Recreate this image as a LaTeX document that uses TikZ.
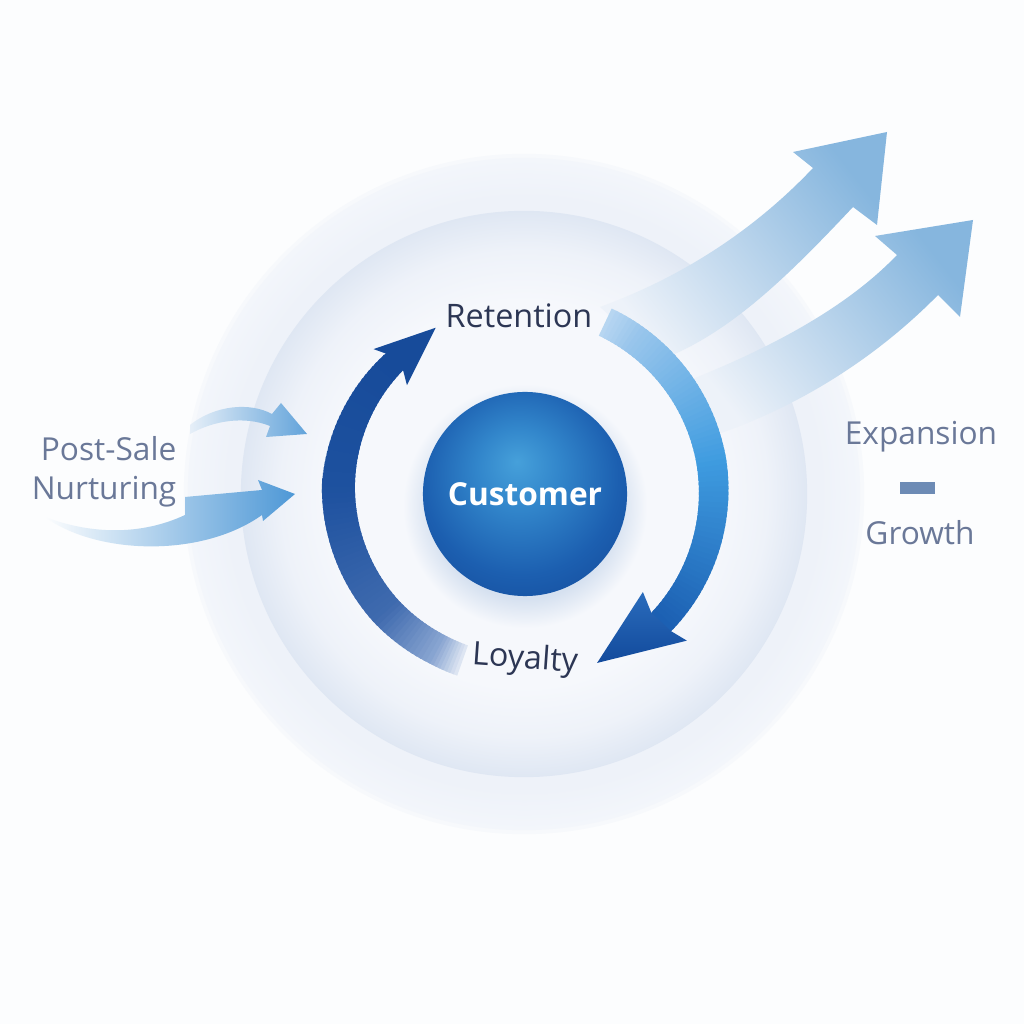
\documentclass[tikz,border=0pt]{standalone}
\usepackage{fontspec}
\setmainfont{Open Sans}
\usetikzlibrary{calc}
\definecolor{bgpage}{HTML}{FCFDFE}
\definecolor{outA}{HTML}{EEF2F9}
\definecolor{outB}{HTML}{F3F6FB}
\definecolor{midA}{HTML}{F6F8FC}
\definecolor{midB}{HTML}{EEF2F9}
\definecolor{midC}{HTML}{DFE7F3}
\definecolor{custA}{HTML}{46A0DA}
\definecolor{custB}{HTML}{3286CB}
\definecolor{custC}{HTML}{1C5FB0}
\definecolor{custD}{HTML}{164F9F}
\definecolor{shadA}{HTML}{C9D7EA}
\definecolor{shadB}{HTML}{D6E1F0}
\definecolor{txtdark}{HTML}{2C3654}
\definecolor{txtside}{HTML}{6A7898}
\definecolor{dashc}{HTML}{6D8BB5}
\definecolor{growHead}{HTML}{86B6DE}
\definecolor{growMid}{HTML}{B4D1EA}
\definecolor{growTail}{HTML}{EDF2F9}
\definecolor{inTail}{HTML}{E6EFF8}
\definecolor{inHeadA}{HTML}{62A3DA}
\definecolor{inHeadB}{HTML}{4E98D6}
\definecolor{lA}{HTML}{E2E9F4}
\definecolor{lB}{HTML}{8AA6D2}
\definecolor{lC}{HTML}{3F6AAE}
\definecolor{lD}{HTML}{1D519F}
\definecolor{lE}{HTML}{174B9A}
\definecolor{rA}{HTML}{B9D7F2}
\definecolor{rB}{HTML}{9AC6EC}
\definecolor{rC}{HTML}{3F9CE0}
\definecolor{rD}{HTML}{1B5FB2}
\definecolor{rHeadA}{HTML}{2A6CBC}
\definecolor{rHeadB}{HTML}{124A9C}
\pgfdeclareradialshading{outerdisc}{\pgfpoint{0bp}{0bp}}{color(0bp)=(outA); color(22bp)=(outA); color(25bp)=(outB); color(50bp)=(outB)}
\pgfdeclareradialshading{middisc}{\pgfpoint{0bp}{0bp}}{color(0bp)=(midA); color(17bp)=(midA); color(21.5bp)=(midB); color(25bp)=(midC); color(50bp)=(midC)}
\pgfdeclareradialshading{custball}{\pgfpoint{-2bp}{8bp}}{color(0bp)=(custA); color(10bp)=(custB); color(24bp)=(custC); color(33bp)=(custD); color(50bp)=(custD)}
\pgfdeclareradialshading{custshadow}{\pgfpoint{0bp}{0bp}}{color(0bp)=(shadA); color(19bp)=(shadB); color(25bp)=(midA); color(50bp)=(midA)}
% #1,#2 angles; #3,#4 inner/outer radius at start (cm); #5,#6 at end; #7,#8 colours; #9 steps
\newcommand\ArcGrad[9]{%
  \foreach \k in {1,...,#9}{%
    \pgfmathsetmacro\aA{#1+(#2-#1)*(\k-1)/#9}%
    \pgfmathsetmacro\aB{#1+(#2-#1)*(\k+0.6)/#9}%
    \pgfmathsetmacro\fr{(\k-0.5)/#9}%
    \pgfmathsetmacro\ri{#3+(#5-#3)*\fr}%
    \pgfmathsetmacro\ro{#4+(#6-#4)*\fr}%
    \pgfmathsetmacro\pc{100*\fr}%
    \fill[#8!\pc!#7] ($(AC)+(\aA:\ri cm)$) arc[start angle=\aA, end angle=\aB, radius=\ri cm]
      -- ($(AC)+(\aB:\ro cm)$) arc[start angle=\aB, end angle=\aA, radius=\ro cm] -- cycle;
  }}
\begin{document}
\begin{tikzpicture}[x=0.01cm,y=0.01cm,
  lbldark/.style={text=txtdark, font=\fontsize{9.2}{11}\selectfont, inner sep=0pt},
  lblside/.style={text=txtside, font=\fontsize{9}{11.1}\selectfont, inner sep=0pt},
  custnode/.style={circle, minimum size=2.04cm, shading=custball, text=white, font=\fontsize{9}{11}\selectfont\bfseries, inner sep=0pt},
  growarrow/.style={shading=axis, top color=growHead, middle color=growMid, bottom color=growTail, shading angle=-52}]
\useasboundingbox (0,0) rectangle (1024,1024);
\fill[bgpage] (0,0) rectangle (1024,1024);
\coordinate (C) at (524,530);
% background discs
\fill[outB!60!bgpage] (C) circle[radius=3.40cm];
\shade[shading=outerdisc] (C) circle[radius=3.36cm];
\shade[shading=middisc] (C) circle[radius=2.83cm];
% growth arrows
\coordinate (gAt1) at (600,717);
\coordinate (gAt2) at (660,664);
\coordinate (gAnL) at (813,856);
\coordinate (gAwL) at (793,872);
\coordinate (gAtip) at (887,892);
\coordinate (gAwR) at (877,799);
\coordinate (gAnR) at (853,817);
\shade[growarrow] (gAt1) .. controls (690,750) and (760,800) .. (gAnL) -- (gAwL) -- (gAtip) -- (gAwR) -- (gAnR)
  .. controls (790,750) and (730,690) .. (gAt2) -- cycle;
\coordinate (gBt1) at (690,644);
\coordinate (gBt2) at (700,584);
\coordinate (gBnL) at (897,769);
\coordinate (gBwL) at (875,788);
\coordinate (gBtip) at (973,804);
\coordinate (gBwR) at (960,707);
\coordinate (gBnR) at (938,729);
\shade[growarrow] (gBt1) .. controls (780,680) and (850,720) .. (gBnL) -- (gBwL) -- (gBtip) -- (gBwR) -- (gBnR)
  .. controls (880,670) and (800,615) .. (gBt2) -- cycle;
% input arrows
\coordinate (iAt1) at (190,599);
\coordinate (iAb1) at (272,610);
\coordinate (iAwU) at (281,621);
\coordinate (iAtip) at (307,590);
\coordinate (iAwD) at (266,587);
\coordinate (iAb2) at (270,598);
\coordinate (iAt2) at (190,590);
\shade[left color=inTail, right color=inHeadA] (iAt1) .. controls (215,619) and (250,622) .. (iAb1) -- (iAwU) -- (iAtip) -- (iAwD) -- (iAb2)
  .. controls (245,608) and (215,604) .. (iAt2) -- cycle;
\coordinate (iBtail) at (45,507);
\coordinate (iBb1) at (262,509);
\coordinate (iBwD) at (263,503);
\coordinate (iBtip) at (295,530);
\coordinate (iBwU) at (258,544);
\coordinate (iBb2) at (262,534);
\coordinate (iBu) at (185,527);
\coordinate (iBl) at (185,509);
\shade[left color=bgpage, right color=inHeadB] (iBtail) .. controls (95,470) and (200,465) .. (iBb1) -- (iBwD) -- (iBtip) -- (iBwU) -- (iBb2)
  -- (iBu) -- (iBl) .. controls (140,488) and (90,490) .. (iBtail) -- cycle;
% customer shadow
\shade[shading=custshadow] (525,518) circle[radius=1.22cm];
% left circular arrow (Loyalty -> Retention)
\coordinate (AC) at (524,537);
\ArcGrad{250.5}{242}{1.68}{2.00}{1.68}{2.00}{lA}{lB}{8}
\ArcGrad{242}{222}{1.68}{2.00}{1.69}{2.02}{lB}{lC}{14}
\ArcGrad{222}{180}{1.69}{2.02}{1.69}{2.02}{lC}{lD}{26}
\ArcGrad{180}{136}{1.69}{2.02}{1.68}{1.92}{lD}{lE}{28}
\coordinate (lh1) at ($(AC)+(136:1.92cm)$);
\coordinate (lh2) at ($(AC)+(137.5:2.04cm)$);
\coordinate (lhtip) at ($(AC)+(119:1.82cm)$);
\coordinate (lh3) at ($(AC)+(139:1.55cm)$);
\coordinate (lh4) at ($(AC)+(136:1.68cm)$);
\fill[lE] (lh1) -- (lh2) -- (lhtip) -- (lh3) -- (lh4) -- cycle;
% right circular arrow (Retention -> Loyalty)
\coordinate (AC) at (524,530);
\ArcGrad{64.7}{55}{1.75}{2.05}{1.75}{2.05}{rA}{rB}{7}
\ArcGrad{55}{10}{1.75}{2.05}{1.75}{2.05}{rB}{rC}{30}
\ArcGrad{10}{-43}{1.75}{2.05}{1.74}{2.01}{rC}{rD}{34}
\coordinate (rh1) at ($(AC)+(-43:2.01cm)$);
\coordinate (rh2) at ($(AC)+(-42:2.19cm)$);
\coordinate (rhtip) at ($(AC)+(-66.6:1.84cm)$);
\coordinate (rh3) at ($(AC)+(-39.5:1.54cm)$);
\coordinate (rh4) at ($(AC)+(-43:1.74cm)$);
\shade[top color=rHeadA, bottom color=rHeadB] (rh1) -- (rh2) -- (rhtip) -- (rh3) -- (rh4) -- cycle;
% centre
\node[custnode] (cust) at (525,530) {Customer};
% labels
\node[lbldark] (ret) at (519,708) {Retention};
\node[lbldark, rotate=-4] (loy) at (525,364) {Loyalty};
\node[lblside, align=right, anchor=east] (post) at (177,552) {Post-Sale\\Nurturing};
\node[lblside] (exp) at (921,587) {Expansion};
\fill[dashc] (900,530) rectangle (935,542);
\node[lblside] (gro) at (920,491) {Growth};
\end{tikzpicture}
\end{document}
